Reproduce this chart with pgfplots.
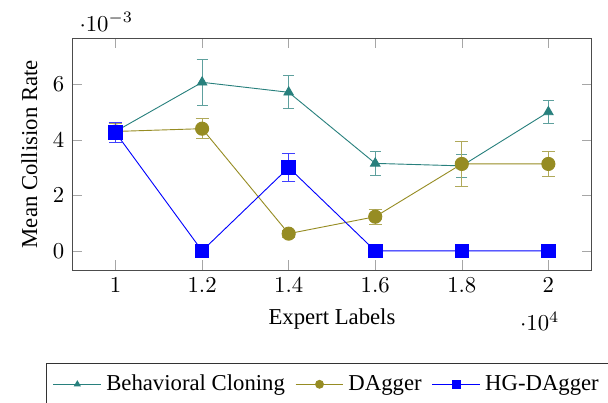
\documentclass[border=0pt]{standalone}
\usepackage{fontspec}
\setmainfont{Liberation Serif}
\usepackage{pgfplots}
\pgfplotsset{compat=1.18}
\definecolor{bccol}{RGB}{40,128,125}
\definecolor{dgcol}{RGB}{150,140,35}
\definecolor{hgcol}{RGB}{0,0,255}
\begin{document}
\begin{tikzpicture}
\begin{axis}[
  scale only axis,
  width=228.5pt, height=101.9pt,
  xmin=9000, xmax=21000,
  ymin=-0.00069, ymax=0.00765,
  xtick={10000,12000,14000,16000,18000,20000},
  ytick={0,0.002,0.004,0.006},
  xlabel={Expert Labels},
  ylabel={Mean Collision Rate},
  axis line style={black!70},
  major tick style={black!35},
  legend columns=-1,
  legend image code/.code={\draw[mark repeat=2,mark phase=2,every mark/.append style={scale=0.6}] plot coordinates {(0cm,0cm)(0.37cm,0cm)(0.74cm,0cm)};},
  legend style={at={(-0.0512,-0.401)}, anchor=north west, draw=black!80,
    font=\normalsize, inner ysep=3pt,
    /tikz/every even column/.append style={column sep=2.5pt}},
]
\addplot+[color=bccol, mark=triangle*, mark size=2.4pt, mark options={fill=bccol, solid},
  error bars/.cd, y dir=both, y explicit, error bar style={bccol!75}]
  coordinates {
  (10000,0.00430) +- (0,0.00030)
  (12000,0.00607) +- (0,0.00083)
  (14000,0.00571) +- (0,0.00059)
  (16000,0.00315) +- (0,0.00044)
  (18000,0.00306) +- (0,0.00042)
  (20000,0.00500) +- (0,0.00042)
  };
\addlegendentry{Behavioral Cloning}
\addplot+[color=dgcol, mark=*, mark size=2.9pt, mark options={fill=dgcol, solid},
  error bars/.cd, y dir=both, y explicit, error bar style={dgcol!75}]
  coordinates {
  (10000,0.00430) +- (0,0.00030)
  (12000,0.00440) +- (0,0.00037)
  (14000,0.00062) +- (0,0.00012)
  (16000,0.00123) +- (0,0.00027)
  (18000,0.00313) +- (0,0.00082)
  (20000,0.00313) +- (0,0.00044)
  };
\addlegendentry{DAgger}
\addplot+[color=hgcol, mark=square*, mark size=3pt, mark options={fill=hgcol, solid},
  error bars/.cd, y dir=both, y explicit, error bar style={hgcol!75}]
  coordinates {
  (10000,0.00426) +- (0,0.00037)
  (12000,0) +- (0,0)
  (14000,0.00300) +- (0,0.00050)
  (16000,0) +- (0,0)
  (18000,0) +- (0,0)
  (20000,0) +- (0,0)
  };
\addlegendentry{HG-DAgger}
\end{axis}
\pgfresetboundingbox
\path[use as bounding box] (-31.8pt,-58.1pt) rectangle (235.7pt,118.8pt);
\end{tikzpicture}
\end{document}
